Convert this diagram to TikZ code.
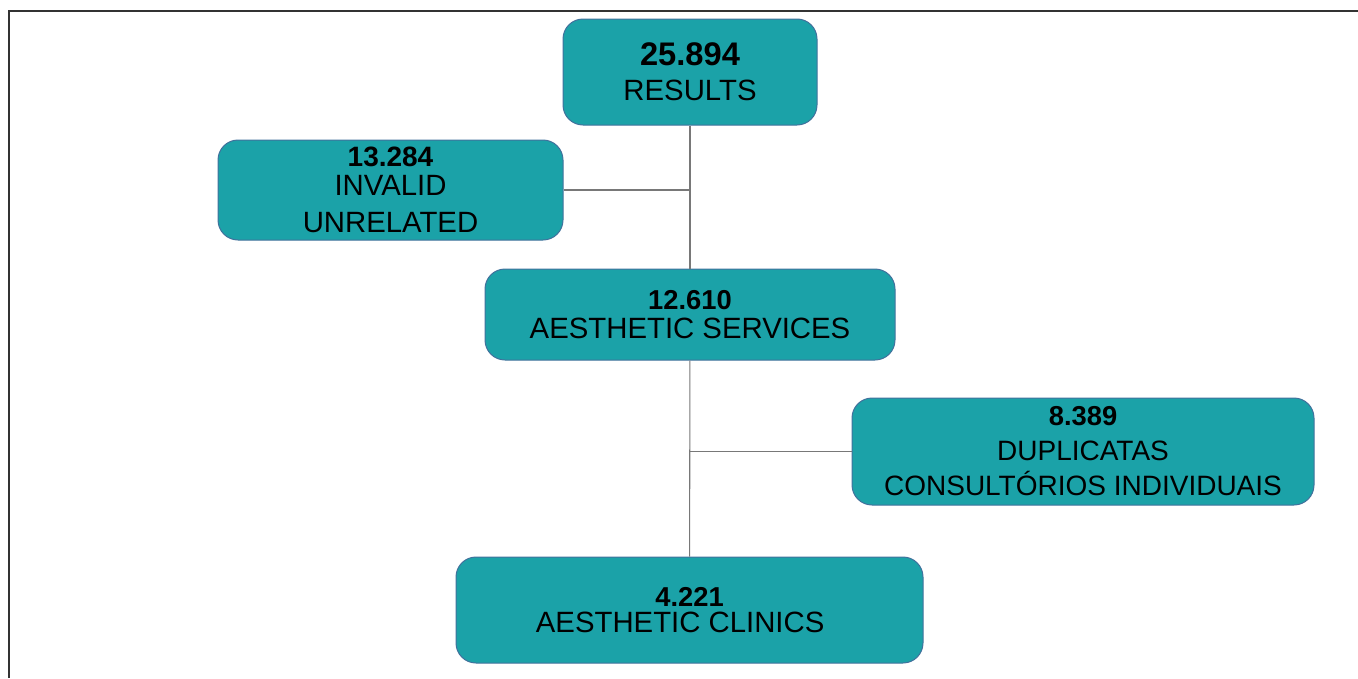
\documentclass[tikz,border=0pt]{standalone}
\usepackage{fontspec}
\setmainfont{Liberation Sans}
\usetikzlibrary{positioning}
\definecolor{tealbox}{RGB}{27,162,168}
\definecolor{boxline}{RGB}{65,113,156}
\definecolor{linkgray}{RGB}{120,120,120}

\begin{document}
\begin{tikzpicture}[
  x=0.75pt, y=-0.75pt,
  box/.style={draw=boxline, line width=0.75pt, fill=tealbox, rounded corners=15pt, align=center, inner sep=0pt},
  link/.style={draw=linkgray, line width=0.8pt}
]
\useasboundingbox (0,0) rectangle (1358,678);
\draw[black!80, line width=1.5pt] (9,678) |- (1358,11);

\node[box, minimum width=190.5pt, minimum height=79.5pt, font=\fontsize{22}{26.25}\selectfont] (results) at (690,72)
  {{\bfseries\fontsize{24.5}{26}\selectfont 25.894}\\RESULTS};
\node[box, minimum width=258.75pt, minimum height=75pt, font=\fontsize{22}{27.75}\selectfont] (invalid) at (390.5,190)
  {{\bfseries\fontsize{21}{22}\selectfont 13.284}\\[-6pt]INVALID\\UNRELATED};
\node[box, minimum width=307.5pt, minimum height=68.25pt, font=\fontsize{22}{21.75}\selectfont] (services) at (690,314.5)
  {{\bfseries\fontsize{20.5}{22}\selectfont 12.610}\\AESTHETIC SERVICES};
\node[box, minimum width=346.5pt, minimum height=80.25pt, font=\fontsize{21}{26.25}\selectfont] (duplicates) at (1083,451.5)
  {{\bfseries\fontsize{20.5}{20}\selectfont 8.389}\\DUPLICATAS\\CONSULTÓRIOS INDIVIDUAIS};
\node[box, minimum width=350.25pt, minimum height=79.5pt, font=\fontsize{22}{20}\selectfont] (clinics) at (689.5,610)
  {{\bfseries\fontsize{20.5}{22}\selectfont 4.221}\\AESTHETIC CLINICS\hspace*{14pt}};

\draw[link] (results) -- (services);
\draw[link] (invalid) -- (invalid -| results);
\draw[link] (services) -- (clinics);
\draw[link] (duplicates) -- (duplicates -| services);
\end{tikzpicture}
\end{document}
